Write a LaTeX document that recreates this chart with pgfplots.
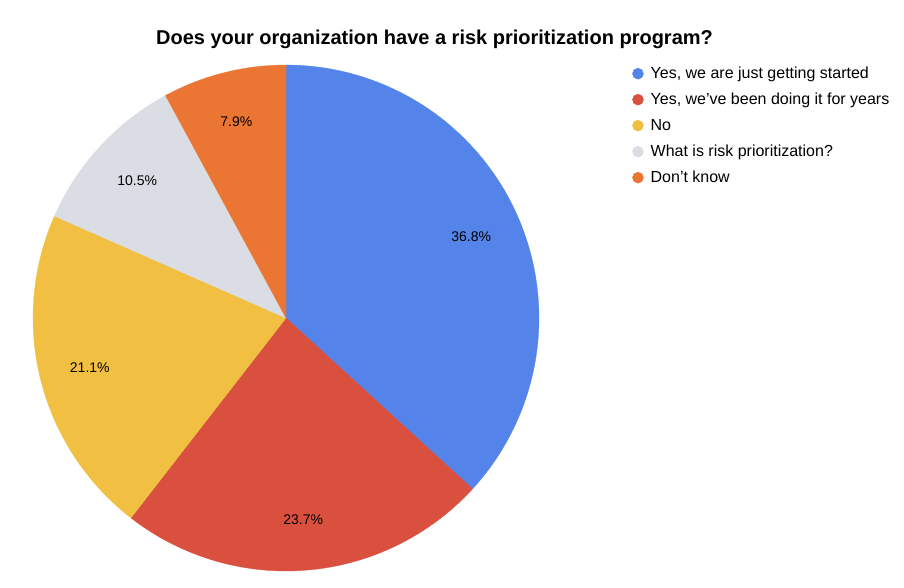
\documentclass[border=0pt]{standalone}
\usepackage{pgfplots}
\pgfplotsset{compat=1.18}
\usepackage{fontspec}
\setmainfont{Liberation Sans}

\definecolor{cBlue}{HTML}{5484EA}
\definecolor{cRed}{HTML}{D9503F}
\definecolor{cYellow}{HTML}{F1BF42}
\definecolor{cGray}{HTML}{DBDDE4}
\definecolor{cOrange}{HTML}{EB7532}

% one wedge: start angle, share in percent, colour
\newcommand{\slice}[3]{%
  \pgfmathsetmacro{\angA}{#1}%
  \pgfmathsetmacro{\angB}{#1-3.6*#2}%
  \pgfmathsetmacro{\angM}{(\angA+\angB)/2}%
  \edef\tmp{\noexpand\addplot[forget plot, fill=#3, draw=#3, line width=0.3pt,
    domain=\angB:\angA, samples=90, variable=\noexpand\t]
    ({cos(\noexpand\t)},{sin(\noexpand\t)}) -- (axis cs:0,0) -- cycle;
    \noexpand\node[font=\noexpand\fontsize{14}{16}\noexpand\selectfont]
      at (axis cs:{0.8*cos(\angM)},{0.8*sin(\angM)}) {#2\noexpand\%};}%
  \tmp
}

\begin{document}
\begin{tikzpicture}
\useasboundingbox (0,0) rectangle (904pt,588pt);

\node[font=\bfseries\fontsize{20}{23}\selectfont] at (434.5pt,549pt)
  {Does your organization have a risk prioritization program?};

\begin{axis}[
  at={(286pt,270pt)}, anchor=center,
  scale only axis, width=506pt, height=506pt,
  xmin=-1, xmax=1, ymin=-1, ymax=1,
  hide axis, clip=false,
  legend image code/.code={\fill[#1] (0pt,0pt) circle (5.5pt); \path (10.5pt,0pt);},
  legend cell align=left,
  legend style={
    draw=none, fill=none,
    at={(1.178,1.006)}, anchor=north west,
    font=\fontsize{16}{19}\selectfont,
    row sep=7pt,
    nodes={inner sep=2pt, text height=12pt, text depth=3pt},
  },
]
\slice{90}{36.8}{cBlue}
\slice{-42.48}{23.7}{cRed}
\slice{-127.8}{21.1}{cYellow}
\slice{-203.76}{10.5}{cGray}
\slice{-241.56}{7.9}{cOrange}

\addlegendimage{color=cBlue}
\addlegendentry{Yes, we are just getting started}
\addlegendimage{color=cRed}
\addlegendentry{Yes, we've been doing it for years}
\addlegendimage{color=cYellow}
\addlegendentry{No}
\addlegendimage{color=cGray}
\addlegendentry{What is risk prioritization?}
\addlegendimage{color=cOrange}
\addlegendentry{Don't know}
\end{axis}
\end{tikzpicture}
\end{document}
